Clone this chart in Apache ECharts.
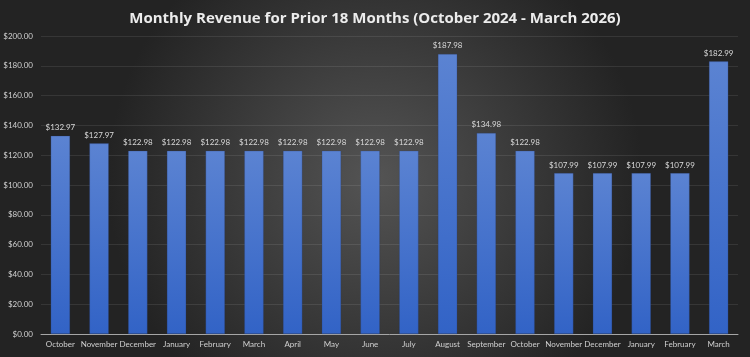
<!DOCTYPE html>
<html><head><meta charset="utf-8">
<script src="https://cdn.jsdelivr.net/npm/echarts@6/dist/echarts.min.js"></script>
<style>html,body{margin:0;padding:0;background:#2b2b2b}#c{width:750px;height:357px}</style>
</head><body><div id="c"></div>
<script>
const titleText = 'Monthly Revenue for Prior 18 Months (October 2024 - March 2026)';
const categories = ['October','November','December','January','February','March','April','May','June','July','August','September','October','November','December','January','February','March'];
const revenue = [132.97,127.97,122.98,122.98,122.98,122.98,122.98,122.98,122.98,122.98,187.98,134.98,122.98,107.99,107.99,107.99,107.99,182.99];
const yMin = 0, yMax = 200, yStep = 20;

const chart = echarts.init(document.getElementById('c'), null, {renderer:'canvas'});
const font = 'Lato, "Open Sans", sans-serif';
chart.setOption({
  animation:false,
  backgroundColor:{type:'radial',x:0.5,y:0.5,r:0.75,colorStops:[{offset:0,color:'#545454'},{offset:1,color:'#232323'}]},
  title:{text:titleText,left:'center',top:6,textStyle:{color:'#ececec',fontSize:15,fontWeight:'bold',fontFamily:'"Open Sans", sans-serif'}},
  grid:{left:41,right:12,top:36,bottom:23,containLabel:false},
  xAxis:{type:'category',data:categories,
    axisLine:{lineStyle:{color:'#a6a6a6',width:1}},axisTick:{show:false},
    axisLabel:{color:'#d0d0d0',fontSize:8,fontFamily:font,interval:0,margin:6}},
  yAxis:{type:'value',min:yMin,max:yMax,interval:yStep,
    axisLine:{show:false},axisTick:{show:false},
    splitLine:{lineStyle:{color:'rgba(255,255,255,0.09)',width:1}},
    axisLabel:{color:'#d0d0d0',fontSize:8,fontFamily:font,margin:8,formatter:v=>'$'+v.toFixed(2)}},
  series:[{type:'bar',data:revenue,barWidth:'50%',
    itemStyle:{borderColor:'rgba(40,60,110,0.5)',borderWidth:0.5,color:{type:'linear',x:0,y:0,x2:0,y2:1,colorStops:[{offset:0,color:'#5b83d2'},{offset:1,color:'#3263c6'}]}},
    label:{show:true,position:'top',distance:4,color:'#d9d9d9',fontSize:8,fontFamily:font,formatter:p=>'$'+p.value.toFixed(2)}}]
});
</script></body></html>
